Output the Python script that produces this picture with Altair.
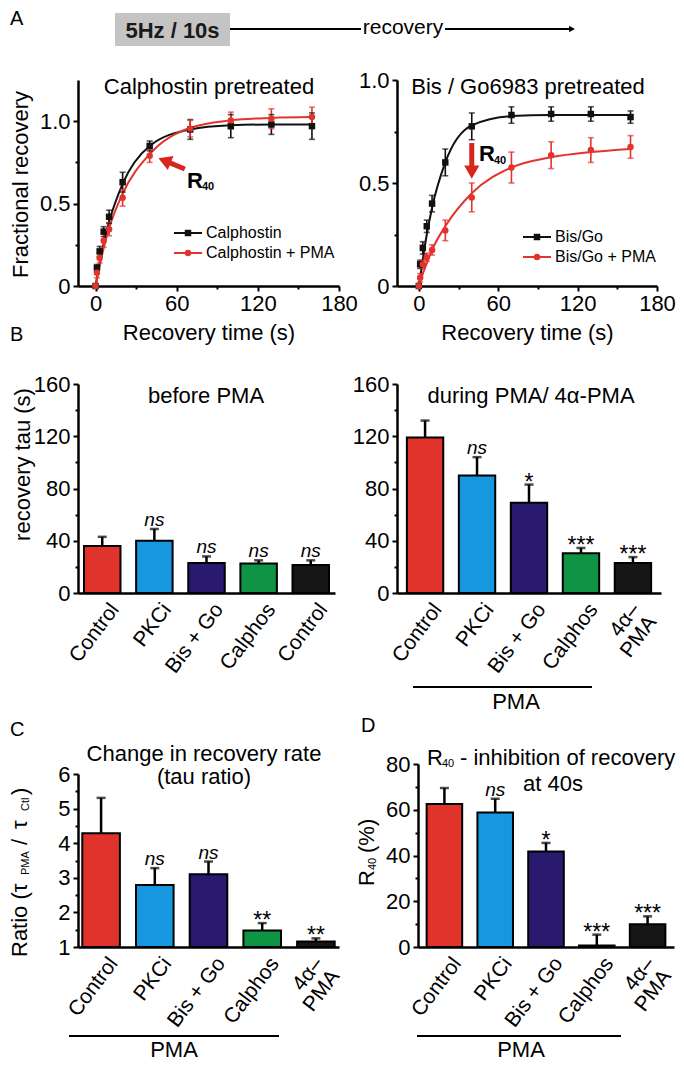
import altair as alt
import pandas as pd

FONT = "Liberation Sans"
INK = "#111111"
RED = "#e2342d"
ARROW_RED = "#d9261c"

# ---------------- Panel A : fractional recovery ----------------
times = [0, 1, 3, 6, 10, 20, 40, 70, 100, 130, 160]
calph_names = ["Calphostin", "Calphostin + PMA"]
calph_mean = [0, 0.11, 0.21, 0.33, 0.42, 0.63, 0.85, 0.95, 0.97, 0.98, 0.97]
calph_err = [0, 0.02, 0.03, 0.03, 0.04, 0.06, 0.03, 0.06, 0.07, 0.06, 0.08]
calph_fit = [0, 0.05, 0.14, 0.26, 0.39, 0.62, 0.85, 0.95, 0.975, 0.98, 0.98]
calph_pma_mean = [0, 0.08, 0.17, 0.275, 0.345, 0.535, 0.79, 0.955, 1.005, 1.015, 1.025]
calph_pma_err = [0, 0.03, 0.03, 0.04, 0.04, 0.05, 0.04, 0.05, 0.05, 0.06, 0.06]
calph_pma_fit = [0, 0.04, 0.12, 0.23, 0.35, 0.56, 0.80, 0.96, 1.005, 1.02, 1.025]

bisgo_names = ["Bis/Go", "Bis/Go + PMA"]
bisgo_mean = [0, 0.105, 0.185, 0.29, 0.40, 0.60, 0.775, 0.83, 0.835, 0.835, 0.82]
bisgo_err = [0, 0.02, 0.03, 0.03, 0.04, 0.065, 0.065, 0.04, 0.035, 0.035, 0.03]
bisgo_fit = [0, 0.04, 0.13, 0.25, 0.38, 0.60, 0.78, 0.825, 0.83, 0.83, 0.83]
bisgo_pma_mean = [0, 0.04, 0.105, 0.14, 0.175, 0.27, 0.43, 0.575, 0.635, 0.66, 0.675]
bisgo_pma_err = [0, 0.02, 0.02, 0.02, 0.025, 0.05, 0.07, 0.075, 0.065, 0.06, 0.055]
bisgo_pma_fit = [0, 0.02, 0.06, 0.11, 0.175, 0.29, 0.45, 0.575, 0.625, 0.65, 0.665]

# ---------------- Panels B-D : bars ----------------
groups = ["Control", "PKCi", "Bis + Go", "Calphos", "4α-PMA"]
groups_before = ["Control", "PKCi", "Bis + Go", "Calphos", "4α control"]
bar_colors = ["#e0332c", "#1697df", "#2a1a6f", "#0e9444", "#161616"]

tau_before = [36, 40, 23, 22.5, 21.5]
tau_before_sem = [7, 9, 5, 2.5, 3.5]
tau_before_sig = ["", "ns", "ns", "ns", "ns"]

tau_during = [119, 90, 69, 30.5, 23]
tau_during_sem = [13, 14, 14, 4, 4.5]
tau_during_sig = ["", "ns", "*", "***", "***"]

tau_ratio = [4.29, 2.79, 3.1, 1.48, 1.16]
tau_ratio_sem = [1.02, 0.49, 0.37, 0.21, 0.09]
tau_ratio_sig = ["", "ns", "ns", "**", "**"]

r40 = [62.5, 58.8, 41.7, 0.7, 9.9]
r40_sem = [7, 6, 3.8, 4.7, 3.5]
r40_sig = ["", "ns", "*", "***", "***"]

LABEL_EXPR = ("datum.value == '4α-PMA' ? ['4α–', 'PMA'] : "
              "(datum.value == '4α control' ? 'Control' : datum.label)")


def minor_ticks(major_test):
    """Tick length: long for labelled (major) ticks, short for minor ones."""
    return {"condition": {"test": major_test, "value": 5}, "value": 3}


# ---------------- helpers for annotations ----------------
def one():
    return alt.Chart(pd.DataFrame({"k": [0]}))


def txt(s, x, y, size=22, align="center", baseline="alphabetic", angle=0,
        weight="normal", style="normal", color="black"):
    mk = dict(font=FONT, fontSize=size, align=align, baseline=baseline,
              fontWeight=weight, fontStyle=style, color=color)
    if angle:
        mk["angle"] = angle
    return alt.Chart(pd.DataFrame({"s": [s]})).mark_text(**mk).encode(
        x=alt.value(x), y=alt.value(y), text="s:N")


def seg(x1, x2, y, width=2, color="black"):
    return one().mark_rule(color=color, strokeWidth=width).encode(
        x=alt.value(x1), x2=alt.value(x2), y=alt.value(y))


def sym(x, y, shape, size, color, angle=0):
    mk = dict(shape=shape, size=size, color=color, filled=True, opacity=1)
    if angle:
        mk["angle"] = angle
    return one().mark_point(**mk).encode(x=alt.value(x), y=alt.value(y))


def box(x1, x2, y1, y2, color):
    return one().mark_rect(color=color).encode(
        x=alt.value(x1), x2=alt.value(x2), y=alt.value(y1), y2=alt.value(y2))


def vtitle(parts, x):
    """Rotated (bottom-to-top) axis title made of text runs: (text, start_y, size)."""
    out = []
    for s, y0, size in parts:
        dx = 2 if size < 16 else 0
        out.append(txt(s, x + dx, y0, size=size, angle=270, align="left"))
    return out


# ---------------- recovery panel ----------------
def recovery_panel(names, m1, e1, f1, m2, e2, f2, xdom, ydom, yvals, width, height,
                   ytitle, legend_rows, legend_x, arrow, extras):
    n = len(times)
    means = m1 + m2
    errs = e1 + e2
    pts = pd.DataFrame({
        "t": times + times,
        "v": means,
        "lo": [a - b for a, b in zip(means, errs)],
        "hi": [a + b for a, b in zip(means, errs)],
        "s": [names[0]] * n + [names[1]] * n,
    })
    fit = pd.DataFrame({"t": times + times, "v": f1 + f2,
                        "s": [names[0]] * n + [names[1]] * n})
    ymajor = "(datum.value * 2) % 1 == 0"
    yax = dict(values=yvals,
               labelExpr=f"{ymajor} ? (datum.value == 0 ? '0' : format(datum.value, '.1f')) : ''",
               tickSize=minor_ticks(ymajor), title=ytitle)
    if ytitle:
        yax.update(titleX=-46, titleY=104)
    xmajor = "datum.value % 60 == 0"
    xax = dict(values=[0, 30, 60, 90, 120, 150, 180], title="Recovery time (s)", titleY=36,
               titleBaseline="top", labelFlush=False, labelPadding=2,
               labelExpr=f"{xmajor} ? datum.label : ''", tickSize=minor_ticks(xmajor))
    xsc = alt.Scale(domain=xdom, nice=False, zero=False)
    ysc = alt.Scale(domain=ydom, nice=False, zero=False)

    def X(f):
        return alt.X(f, type="quantitative", scale=xsc, axis=alt.Axis(**xax))

    def Y(f):
        return alt.Y(f, type="quantitative", scale=ysc, axis=alt.Axis(**yax))

    color = alt.Color("s:N", scale=alt.Scale(domain=names, range=[INK, RED]), legend=None)
    shape = alt.Shape("s:N", scale=alt.Scale(domain=names, range=["square", "circle"]),
                      legend=None)

    line = alt.Chart(fit).mark_line(interpolate="monotone", strokeWidth=2).encode(
        x=X("t"), y=Y("v"), color=color)
    base = alt.Chart(pts)
    err = base.mark_rule(strokeWidth=1.6).encode(x=X("t"), y=Y("lo"), y2="hi:Q", color=color)
    cap_hi = base.mark_tick(orient="horizontal", size=6, thickness=1.6).encode(
        x=X("t"), y=Y("hi"), color=color)
    cap_lo = base.mark_tick(orient="horizontal", size=6, thickness=1.6).encode(
        x=X("t"), y=Y("lo"), color=color)
    dots = base.mark_point(filled=True, size=42, opacity=1).encode(
        x=X("t"), y=Y("v"), color=color, shape=shape)

    layers = [line, err, cap_hi, cap_lo, dots]

    # legend drawn inside the plot
    cols = [INK, RED]
    shapes = ["square", "circle"]
    for i, (nm, ry) in enumerate(zip(names, legend_rows)):
        layers.append(seg(legend_x, legend_x + 28, ry, width=2, color=cols[i]))
        layers.append(sym(legend_x + 14, ry, shapes[i], 42, cols[i]))
        layers.append(txt(nm, legend_x + 32, ry, size=16, align="left", baseline="middle"))

    # R40 arrow (data coordinates)
    adf = pd.DataFrame({"t0": [arrow["t0"]], "v0": [arrow["v0"]],
                        "t1": [arrow["t1"]], "v1": [arrow["v1"]]})
    layers.append(alt.Chart(adf).mark_rule(color=ARROW_RED, strokeWidth=5).encode(
        x=X("t0"), y=Y("v0"), x2="t1:Q", y2="v1:Q"))
    hd = dict(shape=arrow["shape"], size=arrow["size"], color=ARROW_RED, filled=True, opacity=1)
    if arrow.get("angle"):
        hd["angle"] = arrow["angle"]
    layers.append(alt.Chart(adf).mark_point(**hd).encode(x=X("t1"), y=Y("v1")))

    layers += extras
    return alt.layer(*layers).properties(width=width, height=height)


A_H = 206
a_left = recovery_panel(
    calph_names, calph_mean, calph_err, calph_fit,
    calph_pma_mean, calph_pma_err, calph_pma_fit,
    [-13, 180], [0, 1.25], [0, 0.25, 0.5, 0.75, 1.0], 261, A_H, "Fractional recovery",
    legend_rows=[153, 173], legend_x=96,
    arrow=dict(t0=66, v0=0.71, t1=51, v1=0.761, shape="triangle-up", size=230, angle=292),
    extras=[
        # stimulus header
        box(37, 152, -67, -34, "#c4c4c4"),
        txt("5Hz / 10s", 94.5, -42, size=22, weight="bold", color="#1a1a1a"),
        seg(152, 283, -51, width=2),
        seg(367, 492, -51, width=2),
        sym(494, -51, "triangle-right", 45, "black"),
        txt("recovery", 325, -46, size=21),
        txt("A", -68, -55, size=20, align="left"),
        txt("Calphostin pretreated", 131, 14),
        txt("R", 109, 108, size=22, align="left", weight="bold"),
        txt("40", 124, 110, size=11, align="left", weight="bold"),
    ])

a_right = recovery_panel(
    bisgo_names, bisgo_mean, bisgo_err, bisgo_fit,
    bisgo_pma_mean, bisgo_pma_err, bisgo_pma_fit,
    [-16.5, 180], [0, 1.0], [0, 0.25, 0.5, 0.75, 1.0], 260, A_H, None,
    legend_rows=[157, 177], legend_x=126,
    arrow=dict(t0=40, v0=0.694, t1=40, v1=0.553, shape="triangle-down", size=230),
    extras=[
        txt("Bis / Go6983 pretreated", 131, 14),
        txt("R", 82, 81, size=22, align="left", weight="bold"),
        txt("40", 97, 84, size=11, align="left", weight="bold"),
    ])


# ---------------- bar panel ----------------
def bar_panel(keys, vals, sems, sig, width, height, ydom, yvals, ymajor, yfmt,
              ybase=0, xrange=None, yrange=None, p_outer=0.12, ytitle=None, ytx=0,
              yty=0, yoffset=0, extras=()):
    df = pd.DataFrame({"g": keys, "v": vals,
                       "hi": [a + b for a, b in zip(vals, sems)],
                       "sig": sig, "base": [ybase] * len(keys)})
    xs = dict(domain=keys, paddingInner=0.3, paddingOuter=p_outer)
    if xrange:
        xs["range"] = xrange
    ys = dict(domain=ydom, nice=False, zero=False)
    if yrange:
        ys["range"] = yrange
    xax = alt.Axis(title=None, ticks=False, labelAngle=307, labelAlign="right",
                   labelBaseline="top", labelFontSize=21, labelPadding=6,
                   labelOffset={"condition": {"test": "datum.value == '4α-PMA'", "value": -6},
                                "value": 4},
                   labelOverlap=False, labelExpr=LABEL_EXPR, labelLineHeight=21)
    yax = dict(values=yvals, title=ytitle, tickSize=minor_ticks(ymajor),
               labelExpr=f"{ymajor} ? format(datum.value, '{yfmt}') : ''")
    if ytitle:
        yax.update(titleX=ytx, titleY=yty)
    if yoffset:
        yax["offset"] = yoffset

    X = alt.X("g:N", scale=alt.Scale(**xs), axis=xax)

    def Y(f):
        return alt.Y(f, type="quantitative", scale=alt.Scale(**ys), axis=alt.Axis(**yax))

    color = alt.Color("g:N", scale=alt.Scale(domain=keys, range=bar_colors), legend=None)
    base = alt.Chart(df)
    bars = base.mark_bar(stroke="black", strokeWidth=2).encode(
        x=X, y=Y("v"), y2="base:Q", color=color)
    err = base.mark_rule(color="black", strokeWidth=2.5).encode(x=X, y=Y("v"), y2="hi:Q")
    cap = base.mark_tick(orient="horizontal", color="black", thickness=2.5, size=9).encode(
        x=X, y=Y("hi"))
    ns = base.transform_filter("datum.sig == 'ns'").mark_text(
        font=FONT, fontSize=19, fontStyle="italic", dy=-3, baseline="alphabetic").encode(
        x=X, y=Y("hi"), text="sig:N")
    stars = base.transform_filter("indexof(datum.sig, '*') >= 0").mark_text(
        font=FONT, fontSize=23, dy=5, baseline="alphabetic").encode(
        x=X, y=Y("hi"), text="sig:N")
    return alt.layer(bars, err, cap, ns, stars, *extras).properties(width=width, height=height)


tau_ticks = [0, 20, 40, 60, 80, 100, 120, 140, 160]
B_H = 209
b_left = bar_panel(groups_before, tau_before, tau_before_sem, tau_before_sig,
                   257, B_H, [0, 160], tau_ticks, "datum.value % 40 == 0", "d",
                   p_outer=0.115, ytitle="recovery tau (s)", ytx=-44, yty=80,
                   extras=[txt("B", -68, -43, size=20, align="left"),
                           txt("before PMA", 128, 19)])

b_right = bar_panel(groups, tau_during, tau_during_sem, tau_during_sig,
                    264, B_H, [0, 160], tau_ticks, "datum.value % 40 == 0", "d",
                    p_outer=0.19,
                    extras=[txt("during PMA/ 4α-PMA", 134, 19),
                            seg(16, 195, 303, width=2),
                            txt("PMA", 119, 325)])

C_H = 256
c_panel = bar_panel(groups, tau_ratio, tau_ratio_sem, tau_ratio_sig,
                    261, C_H, [1, 6], [1, 1.5, 2, 2.5, 3, 3.5, 4, 4.5, 5, 5.5, 6],
                    "datum.value % 1 == 0", "d", ybase=1,
                    yrange=[256, 83], p_outer=0.08,
                    extras=[txt("C", -68, 45, size=20, align="left"),
                            txt("Change in recovery rate", 126, 70),
                            txt("(tau ratio)", 126, 93),
                            *vtitle([("Ratio (τ", 266, 22),
                                     ("PMA", 184, 11), ("/", 154, 22),
                                     ("τ", 138, 22), ("Ctl", 120, 11),
                                     (")", 104, 22)], -51),
                            seg(-9, 201, 345, width=2),
                            txt("PMA", 96, 366)])

d_panel = bar_panel(groups, r40, r40_sem, r40_sig,
                    277, C_H, [0, 80], [0, 10, 20, 30, 40, 50, 60, 70, 80],
                    "datum.value % 20 == 0", "d",
                    xrange=[21, 277], yrange=[256, 73], p_outer=0.17, yoffset=-21,
                    extras=[txt("D", -36, 41, size=20, align="left"),
                            txt("R", 30, 74, align="left"),
                            txt("40", 45, 76, size=11, align="left"),
                            txt("- inhibition of recovery", 63, 74, align="left"),
                            txt("at 40s", 156, 100),
                            *vtitle([("R", 195, 22), ("40", 179, 11),
                                     ("(%)", 162, 22)], -23),
                            seg(20, 224, 345, width=2),
                            txt("PMA", 124, 366)])

chart = alt.concat(
    a_left, a_right, b_left, b_right, c_panel, d_panel,
    columns=2, spacing={"row": 98, "column": 58}, bounds="flush", align="each",
).resolve_scale(color="independent", shape="independent").properties(
    padding=0
).configure_view(stroke="transparent").configure_axis(
    domainColor="black", domainWidth=2.5, tickColor="black", tickWidth=2,
    labelFont=FONT, labelFontSize=22, labelColor="black", labelPadding=3,
    titleFont=FONT, titleFontSize=22, titleFontWeight="normal", titleColor="black",
    grid=False,
)

chart.save("out.html", embed_options={"renderer": "svg", "actions": False})
